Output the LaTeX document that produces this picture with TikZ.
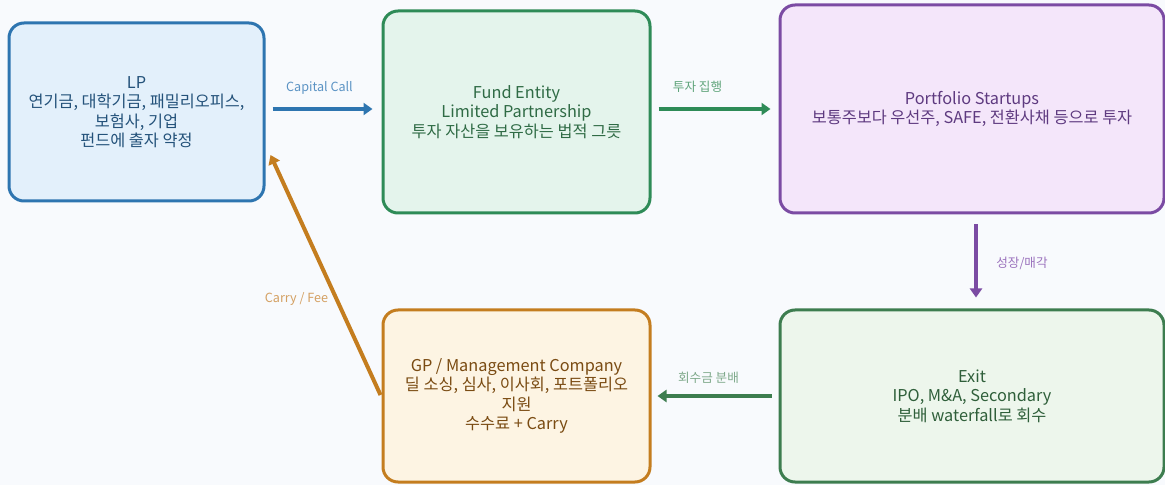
\documentclass[tikz,border=0pt]{standalone}
\usepackage{fontspec}
\setmainfont{Noto Sans CJK KR}
\usetikzlibrary{arrows.meta,calc}

\definecolor{bgc}{HTML}{F8FAFD}
% box palettes: border, fill, text
\definecolor{lpB}{HTML}{2E75B0}\definecolor{lpF}{HTML}{E3F0FB}\definecolor{lpT}{HTML}{24527A}
\definecolor{fdB}{HTML}{2E8B57}\definecolor{fdF}{HTML}{E4F4EC}\definecolor{fdT}{HTML}{2F6B45}
\definecolor{ptB}{HTML}{7B4BA3}\definecolor{ptF}{HTML}{F4E6FA}\definecolor{ptT}{HTML}{5E3A80}
\definecolor{gpB}{HTML}{C47D1F}\definecolor{gpF}{HTML}{FDF4E3}\definecolor{gpT}{HTML}{7A4B12}
\definecolor{exB}{HTML}{3D7D4F}\definecolor{exF}{HTML}{EDF6EC}\definecolor{exT}{HTML}{2F5F3A}
% connector label colours
\definecolor{lpL}{HTML}{5B93C4}
\definecolor{fdL}{HTML}{5FA47A}
\definecolor{ptL}{HTML}{9B72BD}
\definecolor{exL}{HTML}{7EA98A}
\definecolor{gpL}{HTML}{D4A062}

\tikzset{
  box/.style={draw, rounded corners=15pt, line width=3pt, align=center,
    font=\fontsize{16.3}{19.5}\selectfont, inner sep=0pt},
  flow/.style={line width=4pt, -{Triangle[length=9pt,width=12pt]}},
  lbl/.style={font=\fontsize{12.6}{14}\selectfont, inner sep=0pt},
}

\begin{document}
\begin{tikzpicture}[x=1pt,y=1pt]
\fill[bgc] (0,0) rectangle (1165,485);
\useasboundingbox (0,0) rectangle (1165,485);

\node[box, draw=lpB, fill=lpF, text=lpT, minimum width=255pt, minimum height=178pt]
  (lp) at (136.5,373) {LP\\연기금, 대학기금, 패밀리오피스,\\보험사, 기업\\펀드에 출자 약정};
\node[box, draw=fdB, fill=fdF, text=fdT, minimum width=267pt, minimum height=202pt]
  (fund) at (516.5,373) {Fund Entity\\Limited Partnership\\투자 자산을 보유하는 법적 그릇};
\node[box, draw=ptB, fill=ptF, text=ptT, minimum width=384pt, minimum height=208pt]
  (port) at (972,376) {Portfolio Startups\\보통주보다 우선주, SAFE, 전환사채 등으로 투자};
\node[box, draw=gpB, fill=gpF, text=gpT, minimum width=267pt, minimum height=172pt]
  (gp) at (516.5,89) {GP / Management Company\\딜 소싱, 심사, 이사회, 포트폴리오\\지원\\수수료 + Carry};
\node[box, draw=exB, fill=exF, text=exT, minimum width=384pt, minimum height=172pt]
  (exit) at (972,89) {Exit\\IPO, M\&A, Secondary\\분배 waterfall로 회수};

\draw[flow, lpB] ($(lp.east)+(7,3)$) -- ($(fund.west)+(-9,3)$)
  node[lbl, text=lpL, midway, xshift=-3pt, yshift=21pt] (lcap) {Capital Call};
\draw[flow, fdB] ($(fund.east)+(7,3)$) -- ($(port.west)+(-8,0)$)
  node[lbl, text=fdL, midway, xshift=-17pt, yshift=22pt] (linv) {투자 집행};
\draw[flow, ptB] ($(port.south)+(4,-10)$) -- ($(exit.north)+(4,11)$)
  node[lbl, text=ptL, midway, xshift=46pt, yshift=-2pt] (lgrow) {성장/매각};
\draw[flow, exB] ($(exit.west)+(-7,0)$) -- ($(gp.east)+(6,0)$)
  node[lbl, text=exL, midway, xshift=-6pt, yshift=18pt] (ldist) {회수금 분배};
\coordinate (carryEnd) at ($(lp.east)+(5,-43)$);
\draw[flow, gpB] ($(gp.west)+(-1,1)$) -- (carryEnd)
  node[lbl, text=gpL, pos=0.4, xshift=-40pt] (lcarry) {Carry / Fee};
\end{tikzpicture}
\end{document}
